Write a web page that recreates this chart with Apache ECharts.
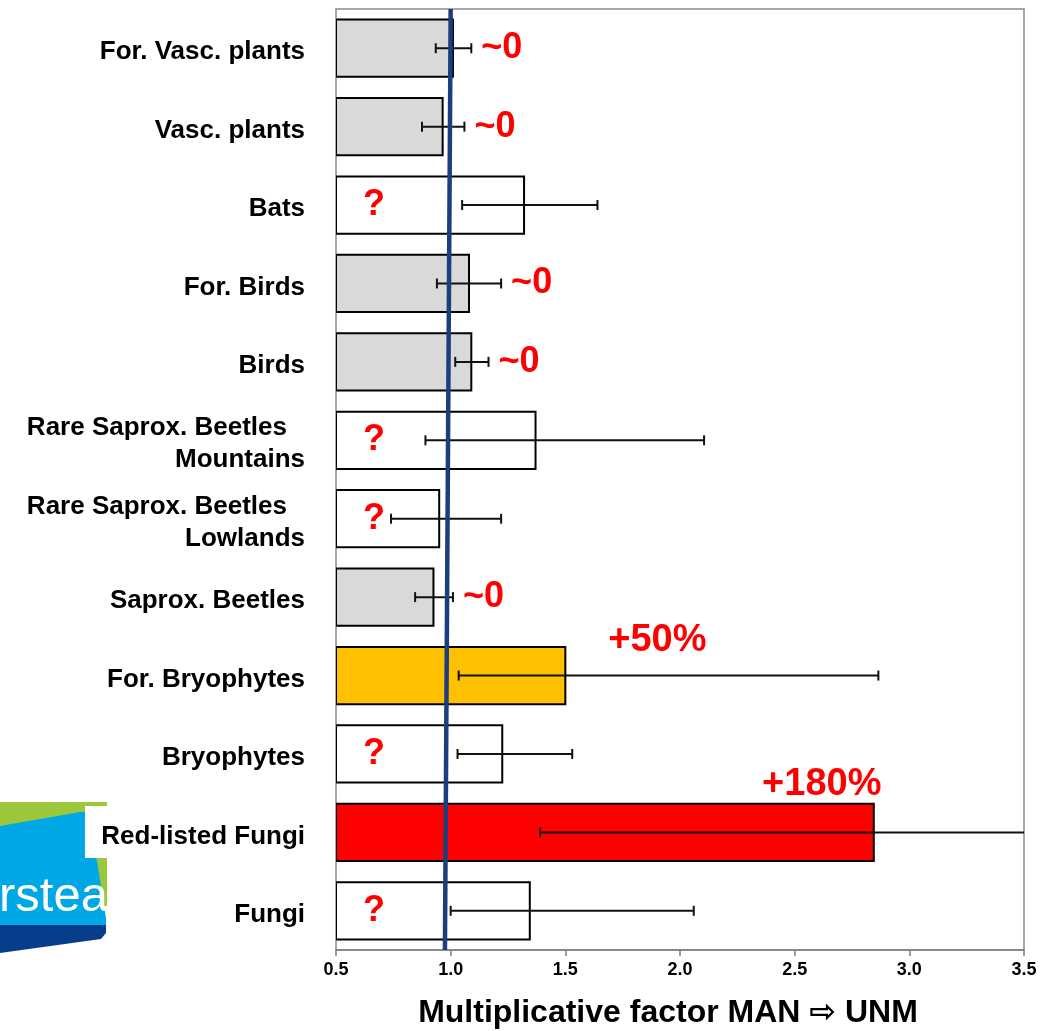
<!DOCTYPE html>
<html>
<head>
<meta charset="utf-8">
<title>Multiplicative factor MAN ⇨ UNM</title>
<script src="https://cdn.jsdelivr.net/npm/echarts@6/dist/echarts.min.js"></script>
<style>
  html, body { margin: 0; padding: 0; background: #ffffff; }
  #chart { width: 1041px; height: 1031px; }
</style>
</head>
<body>
<div id="chart"></div>
<script>
// Taxonomic groups, top to bottom
const categories = [
  'For. Vasc. plants',
  'Vasc. plants',
  'Bats',
  'For. Birds',
  'Birds',
  'Rare Saprox. Beetles\nMountains',
  'Rare Saprox. Beetles\nLowlands',
  'Saprox. Beetles',
  'For. Bryophytes',
  'Bryophytes',
  'Red-listed Fungi',
  'Fungi'
];

// Multiplicative factor (managed -> unmanaged) and its confidence interval
const factors = [1.01, 0.965, 1.32, 1.08, 1.09, 1.37, 0.95, 0.925, 1.50, 1.225, 2.845, 1.345];
const lower   = [0.935, 0.875, 1.05, 0.94, 1.02, 0.89, 0.74, 0.845, 1.035, 1.03, 1.39, 1.0];
const upper   = [1.09, 1.06, 1.64, 1.22, 1.165, 2.105, 1.22, 1.01, 2.865, 1.53, 3.6, 2.06];

// Verdict printed next to each group
const notes = ['~0', '~0', '?', '~0', '~0', '?', '?', '~0', '+50%', '?', '+180%', '?'];

// Reference line (no-effect level), drawn slightly slanted
const refLine = { top: 1.0, bottom: 0.975 };

// Value axis
const axisMin = 0.5;
const axisMax = 3.5;
const axisStep = 0.5;

const FONT = "'Liberation Sans', Arial, 'DejaVu Sans', sans-serif";

// Fill colour for each verdict
const noteFill = { '~0': '#d9d9d9', '?': '#ffffff', '+50%': '#ffc000', '+180%': '#ff0000' };
// Placement of the percentage verdicts, relative to the bar end
const notePlacement = { '+50%': { dx: 92, dy: -35 }, '+180%': { dx: -52, dy: -48 } };

const barData = factors.map((v, i) => [v, i, lower[i], upper[i]]);

function renderBar(params, api) {
  const i = api.value(1);
  const start = api.coord([axisMin, i]);
  const end = api.coord([api.value(0), i]);
  const h = api.size([0, 1])[1] * 0.73;
  return {
    type: 'rect',
    shape: { x: start[0], y: start[1] - h / 2, width: end[0] - start[0], height: h },
    style: { fill: noteFill[notes[i]], stroke: '#000000', lineWidth: 2 }
  };
}

function renderError(params, api) {
  const i = api.value(1);
  const lo = api.coord([api.value(2), i]);
  const hi = api.coord([api.value(3), i]);
  const cap = 5;
  const stroke = { stroke: '#111111', lineWidth: 2 };
  const children = [
    { type: 'line', shape: { x1: lo[0], y1: lo[1], x2: hi[0], y2: hi[1] }, style: stroke },
    { type: 'line', shape: { x1: lo[0], y1: lo[1] - cap, x2: lo[0], y2: lo[1] + cap }, style: stroke }
  ];
  if (api.value(3) <= axisMax) {
    children.push({ type: 'line', shape: { x1: hi[0], y1: hi[1] - cap, x2: hi[0], y2: hi[1] + cap }, style: stroke });
  }
  return { type: 'group', children: children };
}

function renderNote(params, api) {
  const i = api.value(1);
  const note = notes[i];
  const base = api.coord([axisMin, i]);
  let x, y = base[1], align = 'center', size = 36;
  if (note === '?') {
    x = base[0] + 38;
  } else if (note === '~0') {
    x = api.coord([api.value(3), i])[0] + 10;
    align = 'left';
  } else {
    const p = notePlacement[note];
    x = api.coord([api.value(0), i])[0] + p.dx;
    y = base[1] + p.dy;
    size = 38;
  }
  return {
    type: 'text',
    x: x,
    y: y,
    z2: 20,
    style: {
      text: note,
      fill: '#ff0000',
      fontFamily: FONT,
      fontWeight: 'bold',
      fontSize: size,
      align: align,
      verticalAlign: 'middle'
    }
  };
}

const chart = echarts.init(document.getElementById('chart'), null, { renderer: 'canvas' });

const labelFont = { fontSize: 26, fontWeight: 'bold', fontFamily: FONT, color: '#000000', lineHeight: 32 };

chart.setOption({
  backgroundColor: '#ffffff',
  animation: false,
  textStyle: { fontFamily: FONT },
  grid: {
    left: 336, right: 17, top: 9, bottom: 81,
    containLabel: false,
    outerBoundsMode: 'none',
    show: true, borderColor: '#8c8c8c', borderWidth: 1.5, backgroundColor: 'transparent'
  },
  graphic: [
    // institute logo in the lower-left corner
    { type: 'rect', z: -5, shape: { x: 0, y: 802, width: 107, height: 104 }, style: { fill: '#9cc73c' } },
    { type: 'polygon', z: -4, shape: { points: [[0, 826], [80, 812], [86, 812], [90, 817], [106, 918], [106, 926], [0, 926]] }, style: { fill: '#00a7e5' } },
    { type: 'polygon', z: -4, shape: { points: [[0, 925], [106, 925], [106, 933], [101, 939], [0, 953]] }, style: { fill: '#073d8b' } },
    { type: 'text', z: -3, x: -1, y: 922, style: { text: 'rstea', fill: '#ffffff', fontFamily: FONT, fontSize: 49, verticalAlign: 'bottom', align: 'left' } },
    { type: 'rect', z: -2, shape: { x: 85, y: 806, width: 249, height: 52 }, style: { fill: '#ffffff' } }
  ],
  xAxis: {
    type: 'value',
    min: axisMin,
    max: axisMax,
    interval: axisStep,
    name: 'Multiplicative factor MAN ⇨ UNM',
    nameLocation: 'middle',
    nameGap: 47,
    nameTextStyle: { color: '#000000', fontSize: 32, fontWeight: 'bold', fontFamily: FONT, padding: [0, 24, 0, 0] },
    axisLine: { show: true, lineStyle: { color: '#7f7f7f', width: 1.5 } },
    axisTick: { show: true, length: 6, lineStyle: { color: '#7f7f7f', width: 1.5 } },
    splitLine: { show: false },
    axisLabel: {
      color: '#000000', fontSize: 18, fontWeight: 'bold', fontFamily: FONT, margin: 11,
      formatter: v => v.toFixed(1)
    }
  },
  yAxis: [
    {
      type: 'category',
      data: categories,
      inverse: true,
      axisLine: { show: false },
      axisTick: { show: false },
      splitLine: { show: false },
      axisLabel: Object.assign({}, labelFont, {
        margin: 31,
        padding: [8, 0, 0, 0],
        formatter: function (v) {
          const parts = v.split('\n');
          if (parts.length === 1) return v;
          return '{first|' + parts[0] + '}\n{second|' + parts[1] + '}';
        },
        rich: {
          first: Object.assign({}, labelFont, { padding: [0, 18, 0, 0] }),
          second: Object.assign({}, labelFont)
        }
      })
    },
    { type: 'value', min: 0, max: 1, show: false }
  ],
  series: [
    {
      type: 'custom',
      name: 'factor',
      renderItem: renderBar,
      data: barData,
      encode: { x: 0, y: 1 },
      clip: true,
      z: 2
    },
    {
      type: 'custom',
      name: 'interval',
      renderItem: renderError,
      data: barData,
      encode: { x: [0, 2, 3], y: 1 },
      clip: true,
      z: 3
    },
    {
      type: 'line',
      name: 'no effect',
      yAxisIndex: 1,
      data: [[refLine.top, 1], [refLine.bottom, 0]],
      symbol: 'none',
      lineStyle: { color: '#1b3f7c', width: 4.5 },
      z: 4,
      silent: true
    },
    {
      type: 'custom',
      name: 'verdict',
      renderItem: renderNote,
      data: barData,
      encode: { x: 0, y: 1 },
      clip: false,
      z: 5
    }
  ]
});
</script>
</body>
</html>
